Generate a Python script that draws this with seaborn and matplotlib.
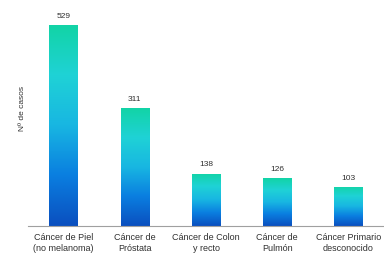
import matplotlib
matplotlib.use("Agg")
import matplotlib.pyplot as plt
import numpy as np
import pandas as pd
import seaborn as sns
from matplotlib.colors import LinearSegmentedColormap

categories = ["Cáncer de Piel\n(no melanoma)", "Cáncer de\nPróstata", "Cáncer de Colon\ny recto",
              "Cáncer de\nPulmón", "Cáncer Primario\ndesconocido"]
casos = [529, 311, 138, 126, 103]
y_label = "Nº de casos"

df = pd.DataFrame({"tipo": categories, "casos": casos})

sns.set_style("white")
plt.rcParams["font.family"] = ["Liberation Sans", "DejaVu Sans"]

fig = plt.figure(figsize=(3.84, 2.61), dpi=100)
ax = fig.add_axes([0.073, 0.134, 0.927, 0.846])

sns.barplot(data=df, x="tipo", y="casos", width=0.4, color="#1aa0e0", ax=ax)

# vertical gradient inside each bar: green-teal top, blue bottom
cmap = LinearSegmentedColormap.from_list("grad", ["#0a4fbf", "#0a7ee0", "#18b6e2", "#1fd2d6", "#12d4a6"])
grad = np.linspace(0, 1, 256).reshape(-1, 1)
for patch in ax.patches:
    x0, y0 = patch.get_x(), patch.get_y()
    w, h = patch.get_width(), patch.get_height()
    im = ax.imshow(grad, cmap=cmap, origin="lower", aspect="auto",
                   extent=[x0, x0 + w, y0, y0 + h], zorder=2)
    im.set_clip_path(patch)
    patch.set_edgecolor("none")

txt = "#303030"
for i, v in enumerate(casos):
    ax.text(i, v + 14, str(v), ha="center", va="bottom", fontsize=6, color=txt)

ax.set_xlim(-0.5, 4.5)
ax.set_ylim(0, 582)
ax.set_yticks([])
ax.set_xlabel("")
ax.set_ylabel(y_label, fontsize=6, color=txt)
ax.yaxis.set_label_coords(-0.006, 0.53)

ax.set_xticks(range(len(categories)))
ax.set_xticklabels(categories, fontsize=6.5, color=txt, linespacing=1.3)
ax.tick_params(axis="x", which="major", length=0, pad=5)
ax.set_xticks(np.arange(-0.5, 5, 1), minor=True)
ax.tick_params(axis="x", which="minor", length=3, color="#a0a0a0", width=0.8, direction="out")

for s in ["top", "right", "left"]:
    ax.spines[s].set_visible(False)
ax.spines["bottom"].set_color("#a0a0a0")
ax.spines["bottom"].set_linewidth(0.8)

fig.savefig("out.png", dpi=100)
